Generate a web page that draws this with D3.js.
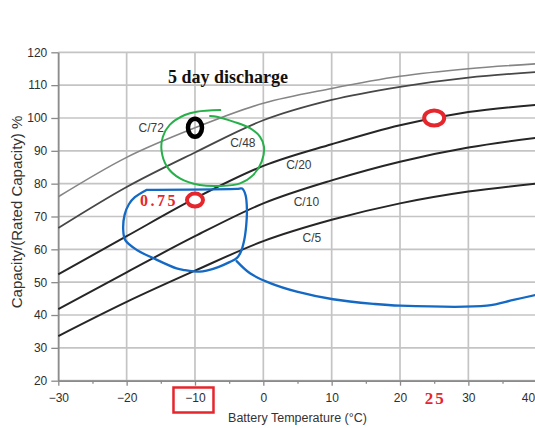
<!DOCTYPE html>
<html>
<head>
<meta charset="utf-8">
<script src="https://cdn.jsdelivr.net/npm/d3@7"></script>
<style>
  html, body { margin: 0; padding: 0; background: #fff; }
  svg { display: block; }
</style>
</head>
<body>
<svg id="chart" width="535" height="428"></svg>
<script>
// Battery capacity vs temperature, one curve per discharge rate
const temperatures = [-30, -20, -10, 0, 10, 20, 30, 40];
const seriesNames = ["C/72", "C/48", "C/20", "C/10", "C/5"];
const capC72 = [76, 88, 97, 104.5, 109, 112.7, 115, 116.5];
const capC48 = [66.5, 79, 89.5, 99.3, 105.5, 109.5, 112.3, 114];
const capC20 = [52.4, 64, 75.5, 85.4, 92, 97.8, 101.8, 104];
const capC10 = [41.8, 53, 64, 74, 81, 86.7, 91, 94];
const capC5  = [33.6, 44, 53.5, 62.5, 69, 74, 77.6, 80];
const seriesValues = [capC72, capC48, capC20, capC10, capC5];

// curve label anchors [temperature, capacity]
const labelAnchors = [[-16.4, 96.9], [-3.0, 92.4], [5.2, 85.7], [6.3, 74.4], [7.1, 63.6]];

const xTicks = [-30, -20, -10, 0, 10, 20, 30, 40];
const xMinorTicks = [-25, -15, -5, 5, 15, 25, 35];
const yTicks = [20, 30, 40, 50, 60, 70, 80, 90, 100, 110, 120];

// hand-drawn markup, in [temperature, capacity]
const highlightPoints = [[-10, 75, "0.75"], [25, 100, "25"]];
const markedPoint = [-10, 97];
const greenLoop = [[-6.3,102.4],[-9.75,101.9],[-11.5,100.9],[-13.7,97.9],[-14.7,94.3],[-14.9,90.2],[-14.1,85.2],[-12.2,81.6],[-9.3,79.6],[-6.3,79.3],[-3.4,80.1],[-1.5,82.6],[-0.24,86.7],[0.1,91.2],[-0.5,94.3],[-1.95,96.9],[-4.4,98.9],[-6.8,100.4],[-7.8,100.6]];
const blueLoop = [[-17.1,78.1],[-3.9,78.4],[-3.1,78.5],[-2.6,76.5],[-2.4,72],[-2.5,67.4],[-2.8,62.8],[-3.3,59.2],[-3.85,57.4],[-4.95,56.1],[-6.6,54.6],[-8.3,53.5],[-9.3,53.2],[-11.5,53.7],[-12.7,54.2],[-16.1,57.3],[-18.5,59.8],[-20.2,62.8],[-20.5,65.9],[-20.3,70.5],[-19.65,73.8],[-18.8,75.9],[-17.1,78.1]];
const blueTail = [[-3.9,56.4],[-1.95,52.7],[1.0,49.7],[4.9,47.1],[10.2,44.8],[16.1,43.4],[20,42.85],[32.7,42.85],[36.6,44.6],[39.8,46.1]];

const svg = d3.select("#chart");
const x = d3.scaleLinear().domain([-30, 40]).range([58.3, 536.7]);
const y = d3.scaleLinear().domain([20, 120]).range([380.7, 52.3]);

// grid
const grid = svg.append("g");
grid.selectAll("line.h").data(yTicks).join("line")
  .attr("x1", x(-30)).attr("x2", x(40))
  .attr("y1", d => y(d)).attr("y2", d => y(d))
  .attr("stroke", "#c4c4c4").attr("stroke-width", 1.7);
grid.selectAll("line.v").data(xTicks).join("line")
  .attr("y1", y(120)).attr("y2", y(20))
  .attr("x1", d => x(d)).attr("x2", d => x(d))
  .attr("stroke", "#c4c4c4").attr("stroke-width", 1.7);

// axes
const font = "'Liberation Sans', Arial, sans-serif";
svg.append("g").attr("transform", `translate(${x(-30)},0)`)
  .call(d3.axisLeft(y).tickValues(yTicks).tickSize(7).tickPadding(4).tickSizeOuter(0));
const xAxis = svg.append("g").attr("transform", `translate(0,${y(20)})`)
  .call(d3.axisBottom(x).tickValues(xTicks).tickSize(5).tickPadding(8).tickSizeOuter(0));
svg.append("g").attr("transform", `translate(0,${y(20)})`)
  .call(d3.axisBottom(x).tickValues(xMinorTicks).tickSize(3).tickFormat("").tickSizeOuter(0));
svg.selectAll(".domain").attr("stroke", "#8a8a8a").attr("stroke-width", 1.5);
svg.selectAll(".tick line").attr("stroke", "#8a8a8a").attr("stroke-width", 1.3);
svg.selectAll(".tick text").attr("font-family", font).attr("font-size", 12).attr("fill", "#2e2e2e");
// the last temperature label sits at the right edge of the page
xAxis.selectAll(".tick text").filter(d => d === 40)
  .attr("text-anchor", "end").attr("x", -2);

// axis titles
svg.append("text")
  .attr("x", (x(-30) + x(40)) / 2).attr("y", 422)
  .attr("text-anchor", "middle").attr("font-family", font).attr("font-size", 12.5)
  .attr("fill", "#333").text("Battery Temperature (°C)");
svg.append("text")
  .attr("transform", "translate(22,212) rotate(-90)")
  .attr("text-anchor", "middle").attr("font-family", font).attr("font-size", 15)
  .attr("fill", "#333").text("Capacity/(Rated Capacity) %");

// chart heading
svg.append("text")
  .attr("x", 228).attr("y", 83)
  .attr("text-anchor", "middle").attr("font-family", "'Liberation Serif', 'Times New Roman', serif")
  .attr("font-weight", "bold").attr("font-size", 18).attr("fill", "#111")
  .text("5 day discharge");

// discharge curves
const lineColors = ["#858585", "#474747", "#262626", "#262626", "#262626"];
const lineWidths = [1.6, 1.8, 2, 2, 2];
const line = d3.line().x(d => x(d[0])).y(d => y(d[1])).curve(d3.curveMonotoneX);
seriesValues.forEach((vals, i) => {
  svg.append("path")
    .datum(temperatures.map((t, j) => [t, vals[j]]))
    .attr("d", line).attr("fill", "none")
    .attr("stroke", lineColors[i]).attr("stroke-width", lineWidths[i]);
  svg.append("text")
    .attr("x", x(labelAnchors[i][0])).attr("y", y(labelAnchors[i][1]))
    .attr("dy", "0.35em").attr("text-anchor", "middle")
    .attr("font-family", font).attr("font-size", 12).attr("fill", "#3a3a3a")
    .text(seriesNames[i]);
});

// markup
const sketch = d3.line().x(d => x(d[0])).y(d => y(d[1])).curve(d3.curveCatmullRom);
svg.append("path").datum(greenLoop).attr("d", sketch)
  .attr("fill", "none").attr("stroke", "#27b04a").attr("stroke-width", 2)
  .attr("stroke-linecap", "round");
svg.append("path").datum(blueLoop).attr("d", sketch)
  .attr("fill", "none").attr("stroke", "#1469c4").attr("stroke-width", 2.3)
  .attr("stroke-linecap", "round");
svg.append("path").datum(blueTail).attr("d", sketch)
  .attr("fill", "none").attr("stroke", "#1469c4").attr("stroke-width", 2.3)
  .attr("stroke-linecap", "round");

svg.append("ellipse")
  .attr("cx", x(markedPoint[0])).attr("cy", y(markedPoint[1]))
  .attr("rx", 7).attr("ry", 9)
  .attr("fill", "none").attr("stroke", "#000").attr("stroke-width", 4.5);

const red = "#e5262d";
svg.append("ellipse")
  .attr("cx", x(highlightPoints[0][0])).attr("cy", y(highlightPoints[0][1]))
  .attr("rx", 8).attr("ry", 6.5)
  .attr("fill", "#fff").attr("stroke", red).attr("stroke-width", 4);
svg.append("ellipse")
  .attr("cx", x(highlightPoints[1][0])).attr("cy", y(highlightPoints[1][1]))
  .attr("rx", 10).attr("ry", 7.5)
  .attr("fill", "#fff").attr("stroke", red).attr("stroke-width", 4);

const serif = "'Liberation Serif', 'Times New Roman', serif";
svg.append("text")
  .attr("x", x(highlightPoints[0][0]) - 17).attr("y", y(highlightPoints[0][1]))
  .attr("dy", "0.35em").attr("text-anchor", "end")
  .attr("font-family", serif).attr("font-weight", "bold").attr("font-size", 16)
  .attr("letter-spacing", 2.5).attr("fill", red).text(highlightPoints[0][2]);
svg.append("text")
  .attr("x", x(highlightPoints[1][0]) + 1).attr("y", 404)
  .attr("text-anchor", "middle")
  .attr("font-family", serif).attr("font-weight", "bold").attr("font-size", 17)
  .attr("letter-spacing", 2).attr("fill", red).text(highlightPoints[1][2]);

// box around the −10 tick
svg.append("rect")
  .attr("x", x(-10) - 21.5).attr("y", 387.5)
  .attr("width", 40).attr("height", 25)
  .attr("fill", "none").attr("stroke", red).attr("stroke-width", 2.5);
</script>
</body>
</html>
